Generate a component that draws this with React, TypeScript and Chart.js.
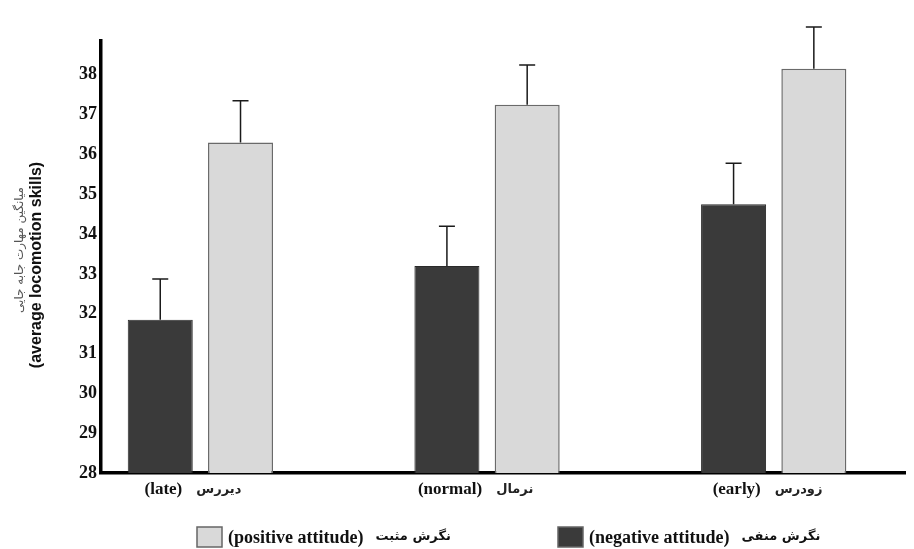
import { useEffect, useRef } from "react";
import { Chart, registerables } from "chart.js";

Chart.register(...registerables);

const categoriesEn = ["(late)", "(normal)", "(early)"];
const categoriesFa = ["دیررس", "نرمال", "زودرس"];
const negativeValues = [31.85, 33.2, 34.75];
const negativeErrors = [1.02, 1.0, 1.03];
const positiveValues = [36.3, 37.25, 38.15];
const positiveErrors = [1.05, 1.0, 1.05];
const yTickValues = [28, 29, 30, 31, 32, 33, 34, 35, 36, 37, 38];
const negativeLabelEn = "(negative attitude)";
const negativeLabelFa = "نگرش منفی";
const positiveLabelEn = "(positive attitude)";
const positiveLabelFa = "نگرش مثبت";
const yTitleFa = "میانگین مهارت جابه جایی";
const yTitleEn = "(average locomotion skills)";

const DARK = "#3a3a3a";
const LIGHT = "#d9d9d9";
const EN_FONT = "'Liberation Serif', 'DejaVu Serif'";
const FA_FONT = "'DejaVu Sans'";
const LABEL_OFFSET = -37;

const errorBarPlugin = {
  id: "errorBars",
  afterDatasetsDraw(chart: any) {
    const ctx = chart.ctx;
    const yScale = chart.scales.y;
    ctx.save();
    ctx.strokeStyle = "#1a1a1a";
    ctx.lineWidth = 1.5;
    chart.data.datasets.forEach((ds: any, di: number) => {
      const meta = chart.getDatasetMeta(di);
      meta.data.forEach((bar: any, i: number) => {
        const v = ds.data[i].y;
        const e = ds.errors[i];
        const top = yScale.getPixelForValue(v + e);
        ctx.beginPath();
        ctx.moveTo(bar.x, bar.y);
        ctx.lineTo(bar.x, top);
        ctx.moveTo(bar.x - 8, top);
        ctx.lineTo(bar.x + 8, top);
        ctx.stroke();
      });
    });
    ctx.restore();
  },
};

const textPlugin = {
  id: "texts",
  afterDraw(chart: any) {
    const ctx = chart.ctx;
    const xScale = chart.scales.x;
    const area = chart.chartArea;

    // Persian parts of x category labels, right of the English tick labels
    ctx.save();
    ctx.textBaseline = "middle";
    ctx.textAlign = "left";
    categoriesEn.forEach((en, i) => {
      ctx.font = `bold 17px ${EN_FONT}`;
      const w = ctx.measureText(en).width;
      const cx = xScale.getPixelForValue(i) + LABEL_OFFSET;
      ctx.font = `bold 13px ${FA_FONT}`;
      ctx.fillStyle = "#222";
      ctx.fillText(categoriesFa[i], cx + w / 2 + 14, area.bottom + 17);
    });
    ctx.restore();

    // y-axis title (two lines)
    ctx.save();
    ctx.translate(20, 255);
    ctx.rotate(-Math.PI / 2);
    ctx.textAlign = "center";
    ctx.textBaseline = "middle";
    ctx.fillStyle = "#555";
    ctx.font = `12px ${FA_FONT}`;
    ctx.fillText(yTitleFa, 5, 0);
    ctx.fillStyle = "#111";
    ctx.font = "bold 16px 'Liberation Sans'";
    ctx.fillText(yTitleEn, -10, 17);
    ctx.restore();

    // legend (positive first, then negative)
    const items = [
      { ds: chart.data.datasets[1], fa: positiveLabelFa, x: 197 },
      { ds: chart.data.datasets[0], fa: negativeLabelFa, x: 558 },
    ];
    const cy = 537;
    ctx.save();
    ctx.textBaseline = "middle";
    ctx.textAlign = "left";
    items.forEach(({ ds, fa, x }) => {
      ctx.fillStyle = ds.backgroundColor;
      ctx.strokeStyle = "#666";
      ctx.lineWidth = 1.5;
      ctx.fillRect(x, cy - 10, 25, 20);
      ctx.strokeRect(x, cy - 10, 25, 20);
      ctx.fillStyle = "#111";
      ctx.font = `bold 18px ${EN_FONT}`;
      ctx.fillText(ds.label, x + 31, cy + 1);
      const w = ctx.measureText(ds.label).width;
      ctx.font = `bold 13px ${FA_FONT}`;
      ctx.fillText(fa, x + 31 + w + 12, cy);
    });
    ctx.restore();
  },
};

export default function App() {
  const ref = useRef<HTMLCanvasElement>(null);

  useEffect(() => {
    if (!ref.current) return;
    const chart = new Chart(ref.current, {
      type: "bar",
      data: {
        datasets: [
          {
            label: negativeLabelEn,
            data: negativeValues.map((v, i) => ({ x: i, y: v })),
            errors: negativeErrors,
            backgroundColor: DARK,
            borderColor: "#2a2a2a",
            borderWidth: 1,
          } as any,
          {
            label: positiveLabelEn,
            data: positiveValues.map((v, i) => ({ x: i, y: v })),
            errors: positiveErrors,
            backgroundColor: LIGHT,
            borderColor: "#6a6a6a",
            borderWidth: 1.5,
          } as any,
        ],
      },
      options: {
        responsive: false,
        animation: false,
        categoryPercentage: 0.56,
        barPercentage: 0.81,
        layout: { padding: { top: 41, right: 9, bottom: 46, left: 0 } },
        plugins: {
          legend: { display: false },
          tooltip: { enabled: false },
        },
        scales: {
          x: {
            type: "linear",
            offset: false,
            min: -0.3467,
            max: 2.458,
            z: 1,
            afterBuildTicks: (scale: any) => {
              scale.ticks = categoriesEn.map((_, i) => ({ value: i }));
            },
            afterFit: (scale: any) => {
              scale.height = 30;
            },
            grid: { display: false, drawTicks: false, offset: false },
            border: { display: true, color: "#000", width: 3.5 },
            ticks: {
              callback: (v: any) => categoriesEn[v] ?? "",
              labelOffset: LABEL_OFFSET,
              padding: 6,
              maxRotation: 0,
              autoSkip: false,
              color: "#111",
              font: { family: EN_FONT, size: 17, weight: "bold" },
            },
          },
          y: {
            type: "linear",
            min: 28,
            max: 38.85,
            z: 1,
            afterBuildTicks: (scale: any) => {
              scale.ticks = yTickValues.map((v) => ({ value: v }));
            },
            afterFit: (scale: any) => {
              scale.width = 101;
            },
            grid: { display: false, drawTicks: false },
            border: { display: true, color: "#000", width: 3.5 },
            ticks: {
              padding: 4,
              color: "#111",
              font: { family: "'Liberation Serif'", size: 18, weight: "bold" },
            },
          },
        },
      },
      plugins: [errorBarPlugin, textPlugin],
    } as any);
    return () => chart.destroy();
  }, []);

  return (
    <div style={{ position: "absolute", left: 0, top: 0, width: 914, height: 549, background: "#fff" }}>
      <canvas ref={ref} width={914} height={549} />
    </div>
  );
}
